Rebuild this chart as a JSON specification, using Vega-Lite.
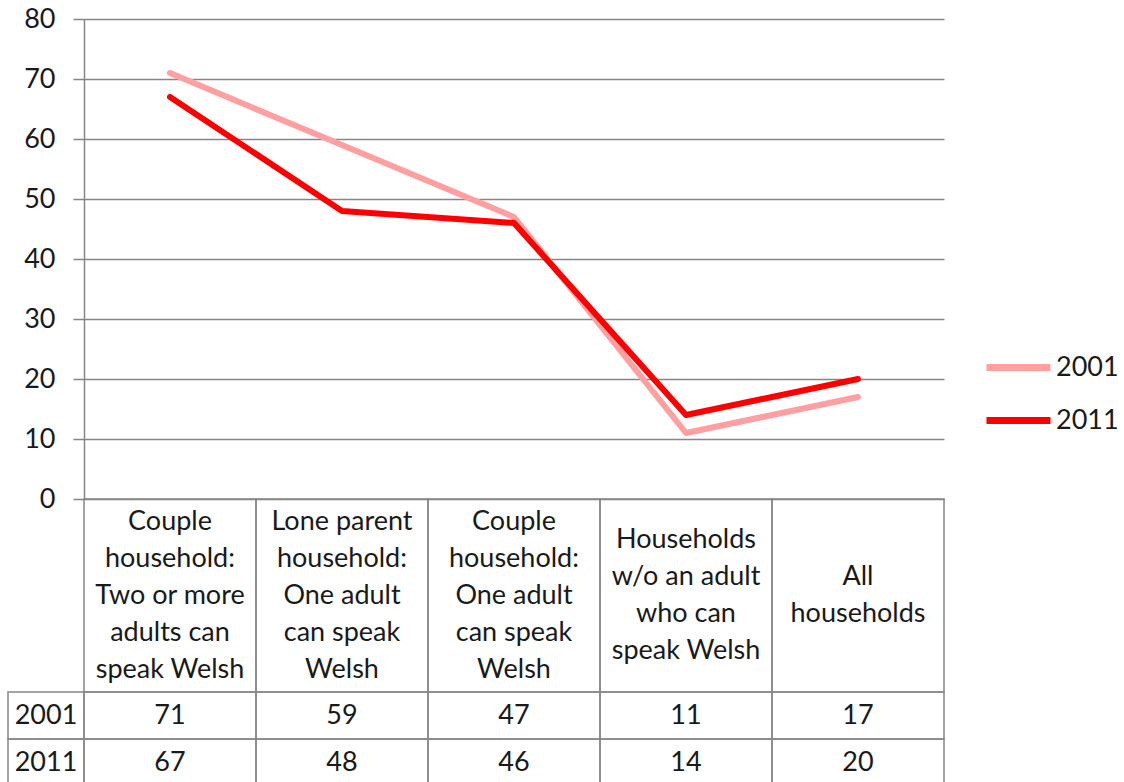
{
  "$schema": "https://vega.github.io/schema/vega-lite/v6.json",
  "autosize": "none",
  "padding": {"left": 84, "top": 19, "right": 180, "bottom": 0},
  "width": 860,
  "height": 763,
  "config": {
    "font": "Lato",
    "view": {"stroke": null},
    "text": {"font": "Lato", "fontSize": 27, "color": "#1a1a1a"}
  },
  "datasets": {
    "series": [
      {"cat": "Couple\nhousehold:\nTwo or more\nadults can\nspeak Welsh", "year": "2001", "value": 71},
      {"cat": "Lone parent\nhousehold:\nOne adult\ncan speak\nWelsh", "year": "2001", "value": 59},
      {"cat": "Couple\nhousehold:\nOne adult\ncan speak\nWelsh", "year": "2001", "value": 47},
      {"cat": "Households\nw/o an adult\nwho can\nspeak Welsh", "year": "2001", "value": 11},
      {"cat": "All\nhouseholds", "year": "2001", "value": 17},
      {"cat": "Couple\nhousehold:\nTwo or more\nadults can\nspeak Welsh", "year": "2011", "value": 67},
      {"cat": "Lone parent\nhousehold:\nOne adult\ncan speak\nWelsh", "year": "2011", "value": 48},
      {"cat": "Couple\nhousehold:\nOne adult\ncan speak\nWelsh", "year": "2011", "value": 46},
      {"cat": "Households\nw/o an adult\nwho can\nspeak Welsh", "year": "2011", "value": 14},
      {"cat": "All\nhouseholds", "year": "2011", "value": 20}
    ],
    "cats": [
      {"cat": "Couple\nhousehold:\nTwo or more\nadults can\nspeak Welsh"},
      {"cat": "Lone parent\nhousehold:\nOne adult\ncan speak\nWelsh"},
      {"cat": "Couple\nhousehold:\nOne adult\ncan speak\nWelsh"},
      {"cat": "Households\nw/o an adult\nwho can\nspeak Welsh"},
      {"cat": "All\nhouseholds"}
    ],
    "years": [{"year": "2001"}, {"year": "2011"}]
  },
  "resolve": {"scale": {"x": "independent", "y": "independent", "color": "independent"}, "axis": {"x": "independent", "y": "independent"}},
  "layer": [
    {
      "data": {"name": "series"},
      "mark": {"type": "line", "strokeWidth": 6, "strokeCap": "round", "strokeJoin": "round"},
      "encoding": {
        "x": {"field": "cat", "type": "nominal", "sort": null, "axis": null,
              "scale": {"type": "point", "range": [0, 860], "padding": 0.5}},
        "y": {"field": "value", "type": "quantitative",
              "scale": {"domain": [0, 80], "range": [480, 0], "nice": false, "zero": true},
              "axis": {"title": null, "values": [0, 10, 20, 30, 40, 50, 60, 70, 80],
                       "grid": true, "gridColor": "#868686", "gridWidth": 1.5,
                       "domainColor": "#868686", "domainWidth": 1.5,
                       "tickColor": "#868686", "tickSize": 11, "tickWidth": 1.5,
                       "labelFont": "Lato", "labelFontSize": 27, "labelColor": "#1a1a1a", "labelPadding": 18}},
        "color": {"field": "year", "type": "nominal",
                  "scale": {"domain": ["2001", "2011"], "range": ["#FF9F9F", "#FF0000"]},
                  "legend": {"title": null, "orient": "none", "legendX": 899, "legendY": 313,
                             "symbolType": "stroke", "symbolSize": 4096, "symbolStrokeWidth": 7,
                             "labelFont": "Lato", "labelFontSize": 27, "labelColor": "#1a1a1a",
                             "rowPadding": 3, "labelOffset": 2}}
      }
    },
    {
      "data": {"name": "cats"},
      "mark": {"type": "rect", "fillOpacity": 0, "stroke": "#868686", "strokeWidth": 1.5},
      "encoding": {
        "x": {"field": "cat", "type": "nominal", "sort": null, "axis": null,
              "scale": {"type": "band", "range": [0, 860], "paddingInner": 0, "paddingOuter": 0}},
        "y": {"datum": "hdr", "type": "nominal", "axis": null,
              "scale": {"type": "band", "domain": ["hdr"], "range": [480, 673], "paddingInner": 0, "paddingOuter": 0}}
      }
    },
    {
      "data": {"name": "cats"},
      "mark": {"type": "text", "lineBreak": "\n", "lineHeight": 37, "align": "center", "baseline": "middle",
               "dy": {"expr": "-(length(split(datum.cat, '\\n')) - 1) * 18.5"}},
      "encoding": {
        "x": {"field": "cat", "type": "nominal", "sort": null, "axis": null,
              "scale": {"type": "band", "range": [0, 860], "paddingInner": 0, "paddingOuter": 0}},
        "y": {"datum": "hdr", "type": "nominal", "axis": null,
              "scale": {"type": "band", "domain": ["hdr"], "range": [480, 673], "paddingInner": 0, "paddingOuter": 0}},
        "text": {"field": "cat"}
      }
    },
    {
      "data": {"name": "series"},
      "mark": {"type": "rect", "fillOpacity": 0, "stroke": "#868686", "strokeWidth": 1.5},
      "encoding": {
        "x": {"field": "cat", "type": "nominal", "sort": null, "axis": null,
              "scale": {"type": "band", "range": [0, 860], "paddingInner": 0, "paddingOuter": 0}},
        "y": {"field": "year", "type": "nominal", "axis": null,
              "scale": {"type": "band", "domain": ["2001", "2011"], "range": [673, 767], "paddingInner": 0, "paddingOuter": 0}}
      }
    },
    {
      "data": {"name": "series"},
      "mark": {"type": "text", "align": "center", "baseline": "middle"},
      "encoding": {
        "x": {"field": "cat", "type": "nominal", "sort": null, "axis": null,
              "scale": {"type": "band", "range": [0, 860], "paddingInner": 0, "paddingOuter": 0}},
        "y": {"field": "year", "type": "nominal", "axis": null,
              "scale": {"type": "band", "domain": ["2001", "2011"], "range": [673, 767], "paddingInner": 0, "paddingOuter": 0}},
        "text": {"field": "value", "type": "quantitative"}
      }
    },
    {
      "data": {"name": "years"},
      "mark": {"type": "rect", "fillOpacity": 0, "stroke": "#868686", "strokeWidth": 1.5},
      "encoding": {
        "x": {"datum": "label", "type": "nominal", "axis": null,
              "scale": {"type": "band", "domain": ["label"], "range": [-76, 0], "paddingInner": 0, "paddingOuter": 0}},
        "y": {"field": "year", "type": "nominal", "axis": null,
              "scale": {"type": "band", "domain": ["2001", "2011"], "range": [673, 767], "paddingInner": 0, "paddingOuter": 0}}
      }
    },
    {
      "data": {"name": "years"},
      "mark": {"type": "text", "align": "center", "baseline": "middle"},
      "encoding": {
        "x": {"datum": "label", "type": "nominal", "axis": null,
              "scale": {"type": "band", "domain": ["label"], "range": [-76, 0], "paddingInner": 0, "paddingOuter": 0}},
        "y": {"field": "year", "type": "nominal", "axis": null,
              "scale": {"type": "band", "domain": ["2001", "2011"], "range": [673, 767], "paddingInner": 0, "paddingOuter": 0}},
        "text": {"field": "year"}
      }
    }
  ]
}
